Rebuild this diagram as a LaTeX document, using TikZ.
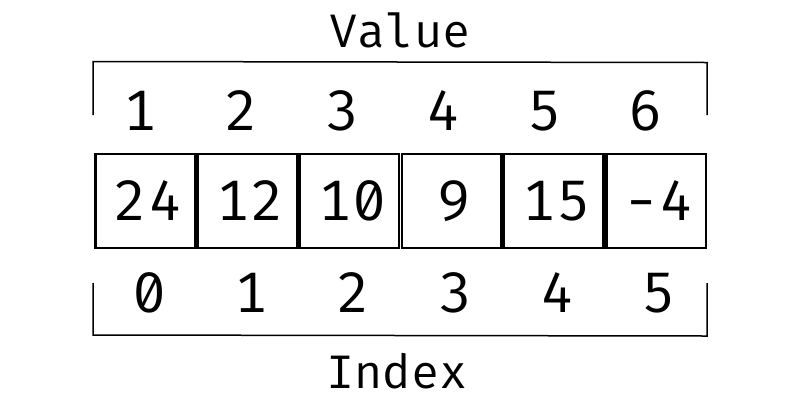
\documentclass[tikz,border=0pt]{standalone}
\usepackage{fontspec}
\setmonofont[Numbers=SlashedZero]{Fira Mono}
\begin{document}
\begin{tikzpicture}[x=1pt,y=-1pt,
  cell/.style={draw=black,line width=2.5pt,minimum width=99.5pt,minimum height=94pt,inner sep=0pt,anchor=north west},
  big/.style={font=\ttfamily\fontsize{57}{68}\selectfont,inner sep=0pt,anchor=base},
  title/.style={font=\ttfamily\fontsize{47}{56}\selectfont,inner sep=0pt,anchor=base},
  brk/.style={draw=black,line width=1.5pt}]
\useasboundingbox[fill=white] (0,0) rectangle (800,400);
% cells
\foreach \v [count=\i from 0] in {24,12,10,9,15,-4}{
  \node[cell] (c\i) at ({94+102.2*\i},152.7) {};
  \node[big] (t\i) at ([xshift=3pt]c\i.center |- 0,220.7) {\v};
}
% value labels
\foreach \v [count=\i from 0] in {1,2,3,4,5,6}{
  \node[big] (v\i) at ({141+101*\i},130) {\v};
}
% index labels
\foreach \v [count=\i from 0] in {0,1,2,3,4,5}{
  \node[big] (x\i) at ({150+101.8*\i},312) {\v};
}
\node[title] (value) at (400,47) {Value};
\node[title] (index) at (397,388) {Index};
% brackets
\coordinate (tl) at (93,115);
\coordinate (tr) at (707,115);
\coordinate (bl) at (93,283);
\coordinate (br) at (707,283);
\draw[brk] (tl) -- (93,61.5) -- (707,62.5) -- (tr);
\draw[brk] (bl) -- (93,335) -- (707,336) -- (br);
\end{tikzpicture}
\end{document}
